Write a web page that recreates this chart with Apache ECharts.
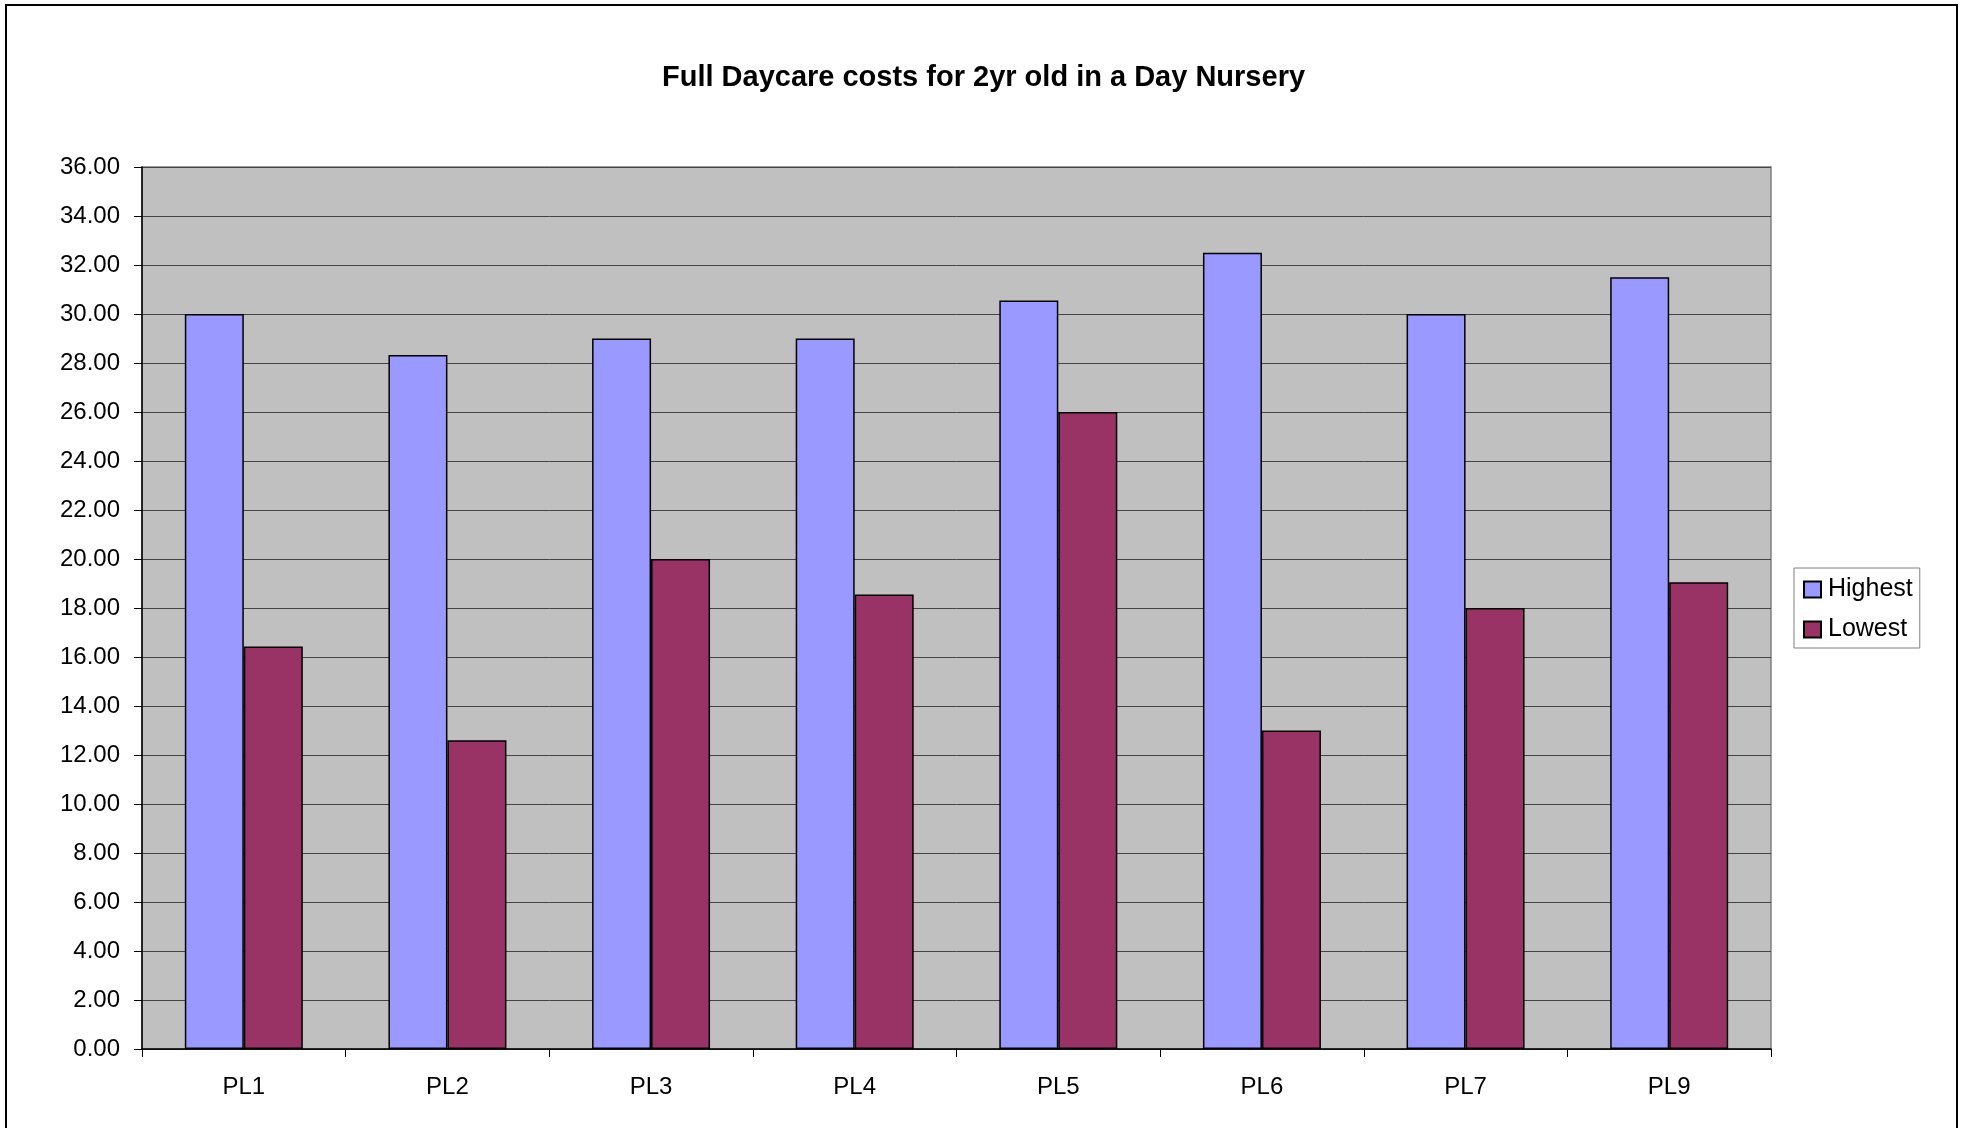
<!DOCTYPE html>
<html>
<head>
<meta charset="utf-8">
<title>Full Daycare costs</title>
<script src="https://cdn.jsdelivr.net/npm/echarts@6/dist/echarts.min.js"></script>
<style>
  html, body { margin: 0; padding: 0; background: #fff; }
  #main { width: 1967px; height: 1128px; }
</style>
</head>
<body>
<div id="main"></div>
<script>
// data
var categories = ['PL1', 'PL2', 'PL3', 'PL4', 'PL5', 'PL6', 'PL7', 'PL9'];
var highest = [30.00, 28.33, 29.00, 29.00, 30.55, 32.50, 30.00, 31.50];
var lowest = [16.43, 12.60, 20.00, 18.55, 26.00, 13.00, 18.00, 19.05];
var seriesNames = ['Highest', 'Lowest'];

var font = 'Liberation Sans, Arial, sans-serif';
var chart = echarts.init(document.getElementById('main'));

var option = {
    backgroundColor: '#ffffff',
    animation: false,
    title: {
        text: 'Full Daycare costs for 2yr old in a Day Nursery',
        left: 'center',
        top: 58,
        textStyle: {
            fontFamily: font,
            fontWeight: 'bold',
            fontSize: 29,
            color: '#000'
        }
    },
    graphic: [{
        // outer chart frame
        type: 'rect',
        shape: { x: 6, y: 5, width: 1951, height: 1140 },
        style: { fill: 'none', stroke: '#000', lineWidth: 2 },
        silent: true
    }],
    legend: {
        orient: 'vertical',
        left: 1794,
        top: 568,
        padding: [9, 7, 6, 9],
        itemWidth: 17,
        itemHeight: 16,
        itemGap: 15,
        icon: 'rect',
        borderColor: '#808080',
        borderWidth: 1,
        backgroundColor: '#fff',
        itemStyle: { borderColor: '#000', borderWidth: 2 },
        textStyle: {
            fontFamily: font,
            fontSize: 25,
            color: '#000',
            padding: [0, 0, 0, 2]
        },
        data: seriesNames
    },
    grid: {
        left: 142,
        top: 167,
        width: 1629,
        height: 882,
        show: true,
        backgroundColor: '#C0C0C0',
        borderColor: '#808080',
        borderWidth: 1.5
    },
    xAxis: {
        type: 'category',
        data: categories,
        axisLine: { show: true, lineStyle: { color: '#000', width: 1.5 } },
        axisTick: {
            show: true,
            interval: 0,
            alignWithLabel: false,
            length: 8,
            lineStyle: { color: '#000' }
        },
        axisLabel: {
            margin: 26,
            fontFamily: font,
            fontSize: 24,
            color: '#000'
        },
        splitLine: { show: false }
    },
    yAxis: {
        type: 'value',
        min: 0,
        max: 36,
        interval: 2,
        axisLine: { show: true, lineStyle: { color: '#000', width: 1.5 } },
        axisTick: { show: true, length: 8, lineStyle: { color: '#000' } },
        axisLabel: {
            margin: 22,
            fontFamily: font,
            fontSize: 24,
            color: '#000',
            formatter: function (v) { return v.toFixed(2); }
        },
        splitLine: { show: true, lineStyle: { color: '#444444', width: 1 } }
    },
    series: [
        {
            name: seriesNames[0],
            type: 'bar',
            barWidth: 59,
            barGap: '0%',
            itemStyle: { color: '#9999FF', borderColor: '#000', borderWidth: 1.5 },
            data: highest
        },
        {
            name: seriesNames[1],
            type: 'bar',
            barWidth: 59,
            barGap: '0%',
            itemStyle: { color: '#993366', borderColor: '#000', borderWidth: 1.5 },
            data: lowest
        }
    ]
};
chart.setOption(option);
</script>
</body>
</html>
